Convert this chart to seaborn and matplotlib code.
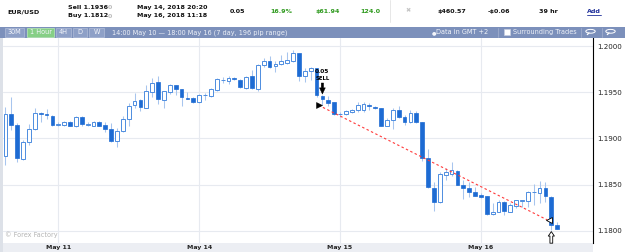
import matplotlib
matplotlib.use("Agg")
import matplotlib.pyplot as plt
from matplotlib.patches import Rectangle, Circle
from matplotlib.lines import Line2D
import numpy as np
import pandas as pd
import seaborn as sns

sns.set_theme(style="white")
plt.rcParams["font.family"] = ["DejaVu Sans"]

W, H = 625, 252

# hourly candles, GMT+2 (weekend has no bars)
sessions = [
    ("2018-05-10 15:00", "2018-05-10 23:00"),
    ("2018-05-11 00:00", "2018-05-11 23:00"),
    ("2018-05-14 00:00", "2018-05-14 23:00"),
    ("2018-05-15 00:00", "2018-05-15 23:00"),
    ("2018-05-16 00:00", "2018-05-16 13:00"),
]

open_ = [1.1881, 1.1926, 1.1915, 1.1878, 1.1896, 1.1910, 1.1928, 1.1927, 1.1924,
         1.1915, 1.1915, 1.1918, 1.1914, 1.1923, 1.1915, 1.1914, 1.1918, 1.1915,
         1.1910, 1.1897, 1.1908, 1.1921, 1.1936, 1.1942, 1.1933, 1.1950, 1.1961,
         1.1942, 1.1950, 1.1958, 1.1953, 1.1944, 1.1944,
         1.1939, 1.1947, 1.1946, 1.1952, 1.1963, 1.1962, 1.1965, 1.1963, 1.1955,
         1.1968, 1.1954, 1.1979, 1.1984, 1.1978, 1.1980, 1.1982, 1.1984, 1.1992,
         1.1968, 1.1973, 1.1976, 1.1946, 1.1942, 1.1939,
         1.1926, 1.1927, 1.1929, 1.1931, 1.1931, 1.1936, 1.1934, 1.1933, 1.1914,
         1.1920, 1.1931, 1.1923, 1.1918, 1.1928, 1.1918, 1.1879, 1.1847, 1.1831,
         1.1861, 1.1862, 1.1865, 1.1850, 1.1847, 1.1842,
         1.1839, 1.1838, 1.1818, 1.1821, 1.1831, 1.1821, 1.1827, 1.1832, 1.1832,
         1.1842, 1.1841, 1.1847, 1.1837, 1.1807]
high = [1.1934, 1.1945, 1.1917, 1.1898, 1.1916, 1.1933, 1.1929, 1.1932, 1.1925,
        1.1918, 1.1919, 1.1919, 1.1924, 1.1924, 1.1918, 1.1919, 1.1919, 1.1918,
        1.1917, 1.1911, 1.1924, 1.1938, 1.1949, 1.1943, 1.1958, 1.1965, 1.1968,
        1.1951, 1.1959, 1.1958, 1.1954, 1.1950, 1.1945,
        1.1948, 1.1949, 1.1955, 1.1965, 1.1966, 1.1968, 1.1966, 1.1964, 1.1968,
        1.1974, 1.1980, 1.1987, 1.1989, 1.1984, 1.1990, 1.1993, 1.1996, 1.1992,
        1.1976, 1.1977, 1.1976, 1.1947, 1.1946, 1.1939,
        1.1929, 1.1931, 1.1932, 1.1939, 1.1939, 1.1938, 1.1935, 1.1933, 1.1922,
        1.1933, 1.1935, 1.1925, 1.1931, 1.1930, 1.1918, 1.1889, 1.1853, 1.1864,
        1.1868, 1.1875, 1.1866, 1.1855, 1.1853, 1.1848,
        1.1841, 1.1838, 1.1830, 1.1834, 1.1832, 1.1830, 1.1834, 1.1833, 1.1843,
        1.1851, 1.1854, 1.1853, 1.1838, 1.1810]
low = [1.1871, 1.1909, 1.1875, 1.1877, 1.1893, 1.1909, 1.1918, 1.1921, 1.1914,
       1.1914, 1.1914, 1.1913, 1.1912, 1.1914, 1.1913, 1.1913, 1.1914, 1.1907,
       1.1896, 1.1891, 1.1907, 1.1913, 1.1933, 1.1930, 1.1933, 1.1945, 1.1937,
       1.1933, 1.1948, 1.1947, 1.1935, 1.1943, 1.1938,
       1.1938, 1.1942, 1.1945, 1.1951, 1.1960, 1.1959, 1.1963, 1.1955, 1.1954,
       1.1953, 1.1951, 1.1977, 1.1976, 1.1972, 1.1979, 1.1981, 1.1983, 1.1962,
       1.1961, 1.1963, 1.1945, 1.1936, 1.1935, 1.1925,
       1.1923, 1.1925, 1.1928, 1.1929, 1.1929, 1.1931, 1.1932, 1.1913, 1.1913,
       1.1910, 1.1922, 1.1915, 1.1917, 1.1917, 1.1876, 1.1846, 1.1822, 1.1830,
       1.1855, 1.1859, 1.1850, 1.1835, 1.1837, 1.1838,
       1.1836, 1.1817, 1.1817, 1.1820, 1.1817, 1.1820, 1.1825, 1.1826, 1.1826,
       1.1828, 1.1830, 1.1831, 1.1801, 1.1802]
close = [1.1926, 1.1915, 1.1879, 1.1896, 1.1910, 1.1928, 1.1927, 1.1925, 1.1915,
         1.1915, 1.1918, 1.1914, 1.1923, 1.1916, 1.1915, 1.1918, 1.1914, 1.1910,
         1.1897, 1.1908, 1.1921, 1.1935, 1.1940, 1.1934, 1.1951, 1.1960, 1.1943,
         1.1951, 1.1958, 1.1953, 1.1945, 1.1943, 1.1939,
         1.1947, 1.1947, 1.1953, 1.1964, 1.1963, 1.1965, 1.1964, 1.1956, 1.1966,
         1.1955, 1.1979, 1.1984, 1.1977, 1.1981, 1.1984, 1.1985, 1.1992, 1.1968,
         1.1973, 1.1976, 1.1947, 1.1943, 1.1938, 1.1927,
         1.1926, 1.1930, 1.1931, 1.1936, 1.1937, 1.1935, 1.1933, 1.1914, 1.1920,
         1.1931, 1.1923, 1.1918, 1.1928, 1.1918, 1.1879, 1.1848, 1.1831, 1.1862,
         1.1864, 1.1866, 1.1850, 1.1847, 1.1842, 1.1838,
         1.1837, 1.1818, 1.1821, 1.1831, 1.1822, 1.1828, 1.1833, 1.1833, 1.1842,
         1.1842, 1.1847, 1.1838, 1.1807, 1.1802]

sell_time, sell_price = "2018-05-14 20:20", 1.19360
buy_time, buy_price = "2018-05-16 11:18", 1.18120
lots = "0.05"

y_ticks = [1.1800, 1.1850, 1.1900, 1.1950, 1.2000]

times = pd.DatetimeIndex(
    np.concatenate([pd.date_range(a, b, freq="h").values for a, b in sessions])
)
df = pd.DataFrame({"time": times, "open": open_, "high": high, "low": low, "close": close})
df["x"] = np.arange(len(df))


def time_pos(ts):
    ts = pd.Timestamp(ts)
    base = ts.floor("h")
    return times.get_loc(base) + (ts - base) / pd.Timedelta(hours=1)


def fx(px):
    return px / W


def fy(py):
    return 1 - py / H


fig = plt.figure(figsize=(W / 100, H / 100), dpi=100)
fig.patch.set_facecolor("white")

# ---- chart ----
ax = fig.add_axes([fx(3), fy(243), fx(590), 205 / H])
ax.set_facecolor("white")

# wicks
ax.vlines(df["x"], df["low"], df["high"], color="#a7c5ee", lw=0.75, zorder=2)

bull = df[df["close"] >= df["open"]]
bear = df[df["close"] < df["open"]]
min_h = 0.00003
ax.bar(bull["x"], np.maximum(bull["close"] - bull["open"], min_h), bottom=bull["open"],
       width=0.64, facecolor="white", edgecolor="#4d8de0", lw=0.7, zorder=3)
ax.bar(bear["x"], np.maximum(bear["open"] - bear["close"], min_h), bottom=bear["close"],
       width=0.64, facecolor="#1d6bd3", edgecolor="#1d6bd3", lw=0.5, zorder=3)

# trade line and markers
sx, bx = time_pos(sell_time), time_pos(buy_time)
trade = pd.DataFrame({"x": [sx, bx], "price": [sell_price, buy_price]})
sns.lineplot(data=trade, x="x", y="price", ax=ax, color="#ff3a3a", lw=0.8,
             linestyle=(0, (2.2, 2.2)), zorder=4)
sns.scatterplot(x=[sx], y=[sell_price], ax=ax, marker=">", color="black", s=18,
                edgecolor="black", linewidth=0.4, zorder=6)
sns.scatterplot(x=[bx + 0.35], y=[buy_price], ax=ax, marker="<", color="white", s=18,
                edgecolor="black", linewidth=0.6, zorder=6)

si = int(np.ceil(sx))
tip = df.loc[si, "high"] + 0.0001
ax.annotate("", xy=(si, tip), xytext=(si, tip + 0.0012),
            arrowprops=dict(arrowstyle="simple,head_length=0.45,head_width=0.42,tail_width=0.17",
                            fc="black", ec="black", lw=0.3, mutation_scale=10,
                            shrinkA=0, shrinkB=0), zorder=7)
ax.text(si, tip + 0.0017, "SELL", ha="center", va="center", fontsize=3.9,
        fontweight="bold", color="black", zorder=7)
ax.text(si, tip + 0.0024, lots, ha="center", va="center", fontsize=4.2,
        fontweight="bold", color="black", zorder=7)

bi = int(np.ceil(bx))
btip = df.loc[bi, "low"] - 0.00017
ax.annotate("", xy=(bi, btip), xytext=(bi, btip - 0.00125),
            arrowprops=dict(arrowstyle="simple,head_length=0.4,head_width=0.55,tail_width=0.25",
                            fc="white", ec="black", lw=0.6, mutation_scale=8,
                            shrinkA=0, shrinkB=0),
            zorder=7, annotation_clip=False)

ax.text(0.004, 0.025, "\u00a9 Forex Factory", transform=ax.transAxes, fontsize=4.7,
        color="#b4b4b4", ha="left", va="bottom")

ax.set_xlim(-0.42, 100.1)
ax.set_ylim(1.17870, 1.200865)
day_pos = df.index[df["time"].dt.hour == 0]
ax.set_xticks(day_pos)
ax.set_xticklabels([t.strftime("%b %d").replace(" 0", " ") for t in df["time"][day_pos]])
ax.set_yticks(y_ticks)
ax.set_yticklabels([f"{v:.4f}" for v in y_ticks])
ax.set_xlabel("")
ax.set_ylabel("")
ax.yaxis.tick_right()
ax.grid(True, color="#e7eaf0", lw=0.8)
ax.set_axisbelow(True)
for s in ["top", "left", "bottom"]:
    ax.spines[s].set_visible(False)
ax.spines["right"].set_color("black")
ax.spines["right"].set_linewidth(0.8)
ax.tick_params(axis="y", length=0, pad=3.2, labelsize=5.1, colors="#222222")
ax.tick_params(axis="x", length=0, pad=1.6, labelsize=4.5, colors="#222222")
for lab in ax.get_xticklabels():
    lab.set_fontweight("bold")

# ---- frame pieces around chart ----
fig.patches.append(Rectangle((fx(3), 0), fx(590), 9 / H, transform=fig.transFigure,
                             facecolor="#eceef3", edgecolor="none", zorder=-1))
fig.patches.append(Rectangle((0, 0), fx(2.6), fy(38), transform=fig.transFigure,
                             facecolor="#dde1e8", edgecolor="none", zorder=5))

# ---- toolbar ----
fig.patches.append(Rectangle((0, fy(38)), 1, 11.5 / H, transform=fig.transFigure,
                             facecolor="#7c90bb", edgecolor="none"))
buttons = [("30M", 4.7, 24.3, False), ("1 Hour", 26.7, 54.3, True),
           ("4H", 56.3, 70.7, False), ("D", 73, 86.7, False), ("W", 89, 104, False)]
for label, x0, x1, active in buttons:
    fc = "#86cf86" if active else "#8ea0c7"
    ec = "#b3e2b3" if active else "#a9b6d5"
    fig.patches.append(Rectangle((fx(x0), fy(36.6)), fx(x1 - x0), 8.6 / H,
                                 transform=fig.transFigure, facecolor=fc, edgecolor=ec, lw=0.6))
    fig.text(fx((x0 + x1) / 2), fy(32.3), label, ha="center", va="center",
             fontsize=4.7, color="#f3f5fa")
fig.text(fx(112), fy(32.3), "14:00 May 10 \u2014 18:00 May 16 (7 day, 196 pip range)",
         ha="left", va="center", fontsize=4.7, color="#eef1f8")
fig.text(fx(431.5), fy(32.3), "\u25cf", ha="left", va="center", fontsize=3.8, color="#f3f5fa")
fig.text(fx(436), fy(32.3), "Data in GMT +2", ha="left", va="center", fontsize=4.7,
         color="#f3f5fa")
for sep in [498, 581, 602]:
    fig.lines.append(Line2D([fx(sep), fx(sep)], [fy(27.5), fy(37)], transform=fig.transFigure,
                            color="#9eaccc", lw=0.6))
fig.patches.append(Rectangle((fx(504), fy(35.3)), fx(6), 6 / H, transform=fig.transFigure,
                             facecolor="white", edgecolor="#c8cfe0", lw=0.5))
fig.text(fx(513), fy(32.3), "Surrounding Trades", ha="left", va="center", fontsize=4.7,
         color="#eef1f8")
for cxp in [590.5, 610.5]:
    fig.patches.append(Circle((fx(cxp), fy(31.3)), 1.9 / H, transform=fig.transFigure,
                              facecolor="none", edgecolor="white", lw=0.7))
    fig.lines.append(Line2D([fx(cxp - 1.5), fx(cxp - 3.2)], [fy(32.9), fy(34.6)],
                            transform=fig.transFigure, color="white", lw=0.9))

# ---- header ----
fig.lines.append(Line2D([fx(390), fx(390)], [fy(0), fy(22)], transform=fig.transFigure,
                        color="#e3e3e3", lw=0.6))
renderer = fig.canvas.get_renderer()


def head(x, y, s, color="#111111", grey_tail=None):
    t = fig.text(fx(x), fy(y), s, ha="left", va="center", fontsize=4.6,
                 fontweight="bold", color=color)
    if grey_tail:
        bb = t.get_window_extent(renderer=renderer)
        fig.text(bb.x1 / W, fy(y), grey_tail, ha="left", va="center", fontsize=4.6,
                 fontweight="bold", color="#bdbdbd")
    return t


head(7, 11.7, "EUR/USD")
head(67.7, 7.3, f"Sell {sell_price:.5f}"[:-1], grey_tail=f"{sell_price:.5f}"[-1])
head(67.7, 16, f"Buy {buy_price:.5f}"[:-1], grey_tail=f"{buy_price:.5f}"[-1])
head(136.7, 7.3, pd.Timestamp(sell_time).strftime("%b %d, %Y %H:%M"))
head(136.7, 16, pd.Timestamp(buy_time).strftime("%b %d, %Y %H:%M"))
head(230, 11.7, lots)
head(270, 11.7, "16.9%", color="#2f9a1e")
head(315, 11.7, "$61.94", color="#2f9a1e")
head(360, 11.7, "124.0", color="#2f9a1e")
fig.text(fx(405), fy(11), "\u2716", ha="left", va="center", fontsize=4.5, color="#c4c4c4")
head(437.7, 11.7, "$460.57")
head(488, 11.7, "-$0.06")
head(539.3, 11.7, "39 hr")
add = head(586.7, 11.7, "Add", color="#1f2f9a")
bb = add.get_window_extent(renderer=renderer)
fig.lines.append(Line2D([bb.x0 / W, bb.x1 / W], [fy(15.3), fy(15.3)], transform=fig.transFigure,
                        color="#1f2f9a", lw=0.6))

fig.savefig("out.png", dpi=100, facecolor="white")
